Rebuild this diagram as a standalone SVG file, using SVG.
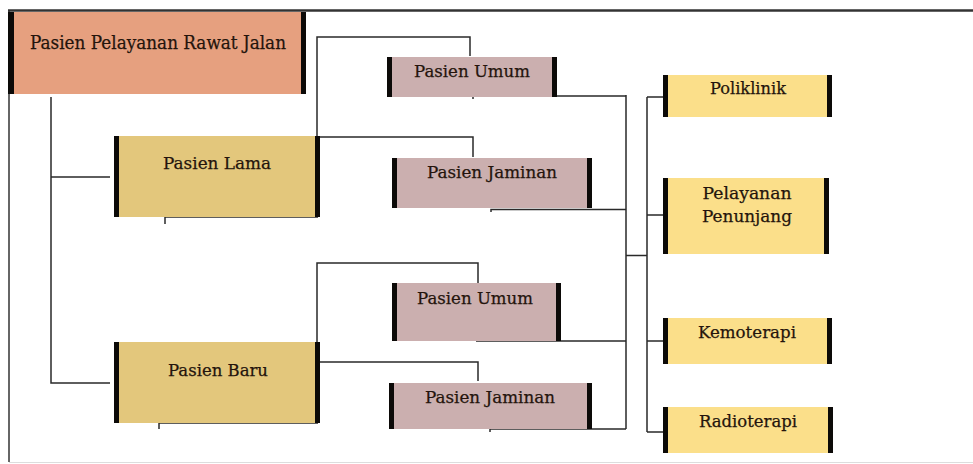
<svg xmlns="http://www.w3.org/2000/svg" width="973" height="464" viewBox="0 0 973 464">
<style>
text{font-family:'DejaVu Serif',serif;fill:#24140c;stroke:#24140c;stroke-width:0.25;text-anchor:middle}
.s17{font-size:17.5px}
.s16{font-size:17px}
.bar{fill:#0c0a08}
.c{fill:none;stroke:#2a2a2a;stroke-width:1.5}
.root{fill:#E6A07F}
.tan{fill:#E3C77C}
.pink{fill:#CBAFAF}
.yel{fill:#FBDF8A}
</style>
<rect width="973" height="464" fill="#fff"/>
<g id="frame">
<line x1="8" y1="10.5" x2="973" y2="10.5" stroke="#333" stroke-width="2.5"/>
<line x1="9" y1="10" x2="9" y2="462" stroke="#333" stroke-width="1.5"/>
<line x1="9" y1="462.5" x2="973" y2="462.5" stroke="#ddd" stroke-width="1"/>
</g>
<g id="connectors">
<path class="c" d="M51 97 V383 H110 M51 177 H110"/>
<path class="c" d="M317 136 V37 H470 V56"/>
<path class="c" d="M318 137 H473 V157"/>
<path class="c" d="M165 224 V217 H318"/>
<path class="c" d="M317 342 V263 H478 V283"/>
<path class="c" d="M318 362 H478 V381"/>
<path class="c" d="M159 429 V423 H318"/>
<path class="c" d="M473 99 V96 H626 M491 212 V209.5 H626 M476 341 H626 M490 432 V429 H626 M626 95 V429"/>
<path class="c" d="M626 255.5 H647 M647 97 V432 M647 97 H663 M647 215 H663 M647 341 H663 M647 432 H663"/>
</g>
<g id="root">
<rect class="root" x="8" y="12" width="298" height="82"/>
<rect class="bar" x="8" y="12" width="6" height="82"/>
<rect class="bar" x="301" y="12" width="5" height="82"/>
<text x="158" y="49" font-size="19" textLength="256" lengthAdjust="spacingAndGlyphs">Pasien Pelayanan Rawat Jalan</text>
</g>
<g id="pasien-lama">
<rect class="tan" x="114" y="136" width="206" height="81"/>
<rect class="bar" x="114" y="136" width="5" height="81"/>
<rect class="bar" x="315" y="136" width="5" height="81"/>
<text class="s17" x="217" y="169" textLength="108" lengthAdjust="spacingAndGlyphs">Pasien Lama</text>
</g>
<g id="pasien-baru">
<rect class="tan" x="114" y="342" width="206" height="81"/>
<rect class="bar" x="114" y="342" width="5" height="81"/>
<rect class="bar" x="315" y="342" width="5" height="81"/>
<text class="s17" x="218" y="376" textLength="100" lengthAdjust="spacingAndGlyphs">Pasien Baru</text>
</g>
<g id="pasien-umum-1">
<rect class="pink" x="387" y="57" width="170" height="40"/>
<rect class="bar" x="387" y="57" width="5" height="40"/>
<rect class="bar" x="552" y="57" width="5" height="40"/>
<text class="s17" x="472" y="77" textLength="116" lengthAdjust="spacingAndGlyphs">Pasien Umum</text>
</g>
<g id="pasien-jaminan-1">
<rect class="pink" x="392" y="158" width="200" height="50"/>
<rect class="bar" x="392" y="158" width="5" height="50"/>
<rect class="bar" x="587" y="158" width="5" height="50"/>
<text class="s17" x="492" y="178" textLength="130" lengthAdjust="spacingAndGlyphs">Pasien Jaminan</text>
</g>
<g id="pasien-umum-2">
<rect class="pink" x="392" y="283" width="169" height="58"/>
<rect class="bar" x="392" y="283" width="5" height="58"/>
<rect class="bar" x="556" y="283" width="5" height="58"/>
<text class="s17" x="475" y="304" textLength="116" lengthAdjust="spacingAndGlyphs">Pasien Umum</text>
</g>
<g id="pasien-jaminan-2">
<rect class="pink" x="389" y="383" width="203" height="46"/>
<rect class="bar" x="389" y="383" width="5" height="46"/>
<rect class="bar" x="587" y="383" width="5" height="46"/>
<text class="s17" x="490" y="403" textLength="130" lengthAdjust="spacingAndGlyphs">Pasien Jaminan</text>
</g>
<g id="poliklinik">
<rect class="yel" x="663" y="75" width="169" height="42"/>
<rect class="bar" x="663" y="75" width="5" height="42"/>
<rect class="bar" x="827" y="75" width="5" height="42"/>
<text class="s16" x="748" y="94" textLength="76" lengthAdjust="spacingAndGlyphs">Poliklinik</text>
</g>
<g id="pelayanan-penunjang">
<rect class="yel" x="663" y="178" width="166" height="76"/>
<rect class="bar" x="663" y="178" width="5" height="76"/>
<rect class="bar" x="824" y="178" width="5" height="76"/>
<text class="s16" x="747" y="199" textLength="89" lengthAdjust="spacingAndGlyphs">Pelayanan</text>
<text class="s16" x="747" y="222" textLength="90" lengthAdjust="spacingAndGlyphs">Penunjang</text>
</g>
<g id="kemoterapi">
<rect class="yel" x="663" y="318" width="169" height="46"/>
<rect class="bar" x="663" y="318" width="5" height="46"/>
<rect class="bar" x="827" y="318" width="5" height="46"/>
<text class="s16" x="747" y="338" textLength="98" lengthAdjust="spacingAndGlyphs">Kemoterapi</text>
</g>
<g id="radioterapi">
<rect class="yel" x="663" y="407" width="170" height="46"/>
<rect class="bar" x="663" y="407" width="5" height="46"/>
<rect class="bar" x="828" y="407" width="5" height="46"/>
<text class="s16" x="748" y="427" textLength="98" lengthAdjust="spacingAndGlyphs">Radioterapi</text>
</g>
</svg>
